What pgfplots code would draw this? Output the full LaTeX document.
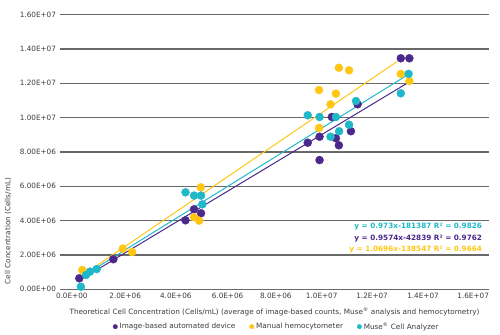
\documentclass[border=0pt]{standalone}
\usepackage{pgfplots}
\pgfplotsset{compat=1.18}
\usepackage{fontspec}
\setmainfont{DejaVu Sans}
\definecolor{cpurple}{RGB}{75,40,140}
\definecolor{cyellow}{RGB}{255,199,20}
\definecolor{ccyan}{RGB}{32,184,200}
\definecolor{cgrid}{RGB}{105,105,105}
\definecolor{ctext}{RGB}{60,60,60}
\newcommand{\fs}{\fontsize{7.3}{9}\selectfont}
\begin{document}
\begin{tikzpicture}
\useasboundingbox (0,0) rectangle (500bp,335bp);
\begin{axis}[
  at={(60bp,45.7bp)}, anchor=south west,
  width=429bp, height=274.6bp, scale only axis,
  xmin=0, xmax=1.6e7, ymin=0, ymax=1.6e7,
  axis line style={draw=none},
  tick style={draw=none},
  ytick={0,2e6,4e6,6e6,8e6,1e7,1.2e7,1.4e7,1.6e7},
  yticklabels={0.00E+00,2.00E+06,4.00E+06,6.00E+06,8.00E+06,1.00E+07,1.20E+07,1.40E+07,1.60E+07},
  xtick={0.44e6,2.43e6,4.32e6,6.25e6,8.05e6,9.76e6,11.64e6,13.54e6,15.41e6},
  xticklabels={0.0E+00,2.0E+06,4.0E+06,6.0E+06,8.0E+06,1.0E+07,1.2E+07,1.4E+07,1.6E+07},
  scaled ticks=false,
  ymajorgrids, grid style={cgrid, line width=1.5bp},
  tick label style={font=\fs, text=ctext},
  yticklabel style={xshift=-0.5bp},
  xlabel={Theoretical Cell Concentration (Cells/mL) (average of image-based counts, Muse\textsuperscript{®} analysis and hemocytometry)},
  ylabel={Cell Concentration (Cells/mL)},
  every axis x label/.style={at={(rel axis cs:0.5,-0.082)}, anchor=center, font=\fs, text=ctext},
  every axis y label/.style={at={(rel axis cs:-0.121,0.212)}, rotate=90, anchor=center, font=\fs, text=ctext},
  legend columns=3,
  legend style={draw=none, fill=none, at={(rel axis cs:0.505,-0.136)}, anchor=center, font=\fs, text=ctext,
    /tikz/every even column/.append style={column sep=12bp}},
  legend image code/.code={\fill (0.2em,0) circle (2.2bp);},
  clip=false,
]
\addplot[only marks, color=cpurple, mark=*, mark size=4bp, mark options={draw=none, fill=cpurple}] coordinates {
(0.72e6,0.64e6) (1.99e6,1.75e6) (4.68e6,4.02e6) (5.0e6,4.66e6) (5.26e6,4.43e6)
(11.1e6,10.78e6) (10.14e6,10.04e6) (10.85e6,9.21e6) (9.68e6,8.89e6) (10.29e6,8.8e6)
(9.24e6,8.54e6) (10.4e6,8.39e6) (9.68e6,7.53e6) (12.71e6,13.46e6) (13.03e6,13.46e6)
};
\addlegendentry{Image-based automated device}
\addplot[only marks, color=cyellow, mark=*, mark size=4bp, mark options={draw=none, fill=cyellow}] coordinates {
(0.83e6,1.12e6) (2.34e6,2.37e6) (2.69e6,2.17e6) (5.0e6,4.2e6) (5.19e6,4.0e6) (5.25e6,5.94e6)
(10.4e6,12.91e6) (10.78e6,12.76e6) (9.66e6,11.61e6) (10.29e6,11.4e6) (10.09e6,10.78e6)
(9.66e6,9.4e6) (12.71e6,12.55e6) (13.03e6,12.14e6)
};
\addlegendentry{Manual hemocytometer}
\addplot[only marks, color=ccyan, mark=*, mark size=4bp, mark options={draw=none, fill=ccyan}] coordinates {
(0.78e6,0.15e6) (0.97e6,0.83e6) (1.12e6,1.03e6) (1.37e6,1.18e6) (4.68e6,5.65e6)
(5.0e6,5.46e6) (5.26e6,5.46e6) (5.31e6,4.95e6) (11.04e6,10.97e6) (9.24e6,10.14e6)
(9.68e6,10.04e6) (10.29e6,10.04e6) (10.78e6,9.59e6) (10.41e6,9.21e6) (10.09e6,8.89e6)
(13.0e6,12.55e6) (12.71e6,11.42e6)
};
\addlegendentry{Muse\textsuperscript{®} Cell Analyzer}
% trendlines
\addplot[cpurple, line width=1bp, forget plot] coordinates {(0.70e6,0.50e6) (12.94e6,12.0e6)};
\addplot[ccyan, line width=1bp, forget plot] coordinates {(0.70e6,0.62e6) (12.9e6,12.43e6)};
\addplot[cyellow, line width=1bp, forget plot] coordinates {(0.78e6,0.75e6) (12.56e6,13.26e6)};
\node[anchor=east, inner sep=0pt, text=ccyan, font=\fs\bfseries] at (rel axis cs:0.984,0.228) {y = 0.973x-181387 R² = 0.9826};
\node[anchor=east, inner sep=0pt, text=cpurple, font=\fs\bfseries] at (rel axis cs:0.984,0.186) {y = 0.9574x-42839 R² = 0.9762};
\node[anchor=east, inner sep=0pt, text=cyellow, font=\fs\bfseries] at (rel axis cs:0.984,0.146) {y = 1.0696x-138547 R² = 0.9664};
\end{axis}
\end{tikzpicture}
\end{document}
